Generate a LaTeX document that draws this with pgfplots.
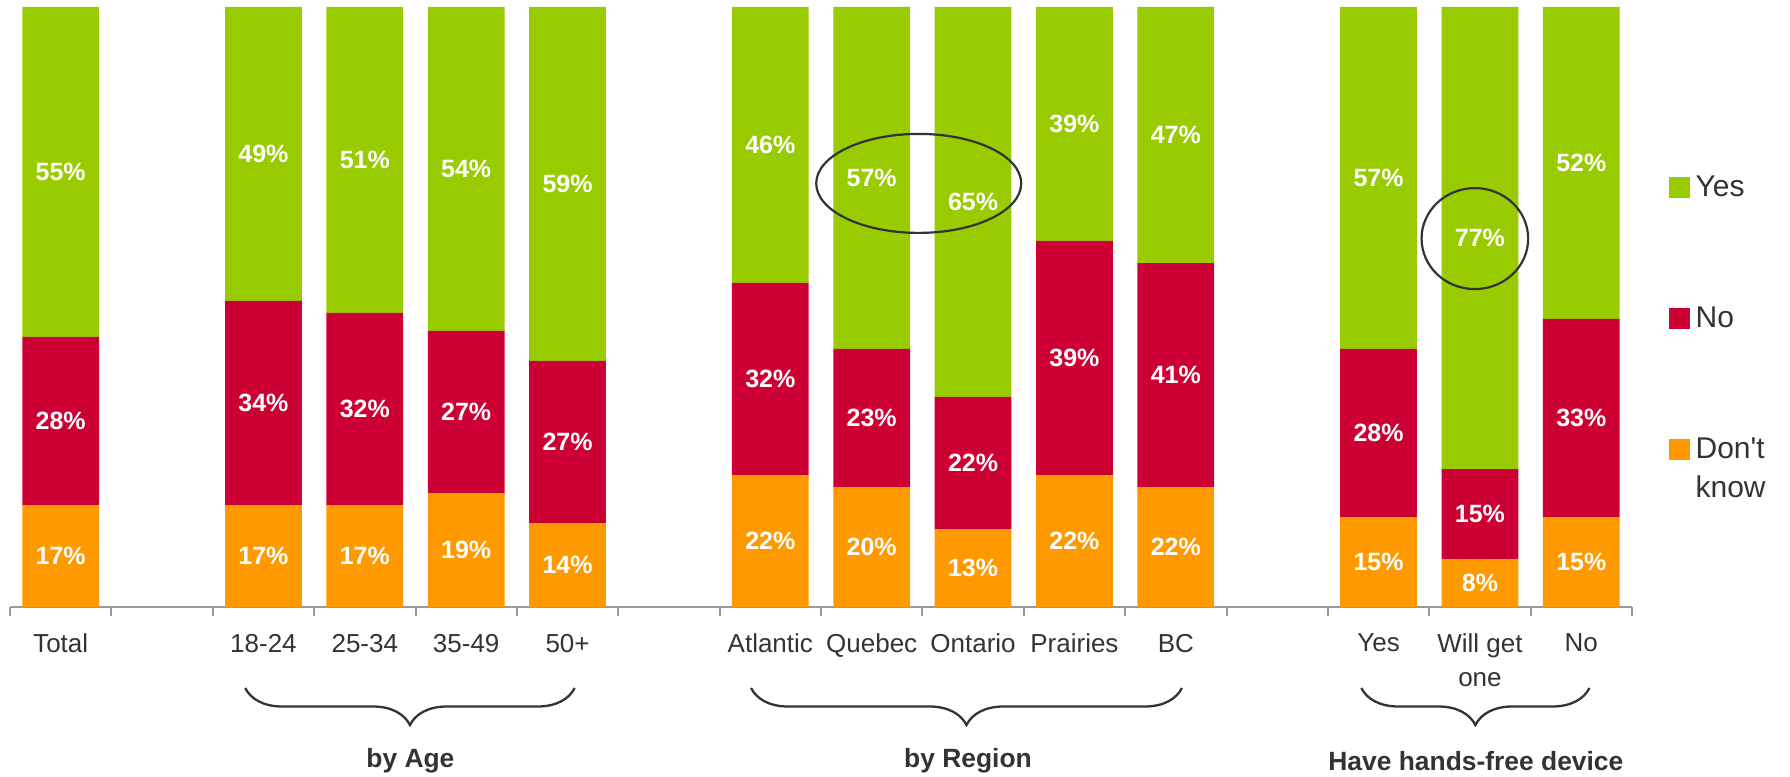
\documentclass[border=0pt]{standalone}
\usepackage{fontspec}
\setmainfont{Liberation Sans}[Ligatures=TeXOff]
\usepackage{pgfplots}
\pgfplotsset{compat=1.18}
\usepackage{pgfplotstable}
\usetikzlibrary{decorations.pathreplacing}

\definecolor{cyes}{HTML}{99CC00}
\definecolor{cno}{HTML}{CC0033}
\definecolor{cdk}{HTML}{FF9900}
\definecolor{txt}{HTML}{333333}
\definecolor{axgray}{HTML}{999999}

\pgfplotsset{
  sqimg/.style={legend image code/.code={\fill[##1] (0pt,-5.25pt) rectangle (10.5pt,5.25pt);}},
  sqimgup/.style={legend image code/.code={\fill[##1] (0pt,4.5pt) rectangle (10.5pt,15pt);}},
  frame/.style={scale only axis, width=811pt, height=300pt, at={(0,0)}, anchor=south west,
    xmin=-0.5, xmax=15.5, ymin=0, ymax=100, enlargelimits=false, clip=false},
}

% heights of the segments, their printed values, and the middle of each segment
\pgfplotstableread{
x  dk   dkl no   nol yes  yesl mdk  mno   myes
0  17   17  28   28  55   55   8.5  31    72.5
2  17   17  34   34  49   49   8.5  34    75.5
3  17   17  32   32  51   51   8.5  33    74.5
4  19   19  27   27  54   54   9.5  32.5  73
5  14   14  27   27  59   59   7    27.5  70.5
7  22   22  32   32  46   46   11   38    77
8  20   20  23   23  57   57   10   31.5  71.5
9  13   13  22   22  65   65   6.5  24    67.5
10 22   22  39   39  39   39   11   41.5  80.5
11 20.0 22  37.3 41  42.7 47   10   38.65 78.65
13 15   15  28   28  57   57   7.5  29    71.5
14 8    8   15   15  77   77   4    15.5  61.5
15 15   15  33   33  52   52   7.5  31.5  74
}\data

\begin{document}
\begin{tikzpicture}
\path[use as bounding box] (-5pt,-85pt) rectangle (890pt,303.5pt);
\begin{axis}[
  frame,
  ybar stacked, bar width=38.35pt,
  axis x line*=bottom, axis y line=none,
  x axis line style={axgray, line width=1pt},
  xtick={0,2,3,4,5,7,8,9,10,11,13,14,15},
  xticklabels={Total,18-24,25-34,35-49,50+,Atlantic,Quebec,Ontario,Prairies,BC,Yes,{Will get\\one},No},
  xticklabel style={align=center, font=\fontsize{13}{17}\selectfont, text=txt, yshift=-10pt},
  ytick=\empty,
  major tick length=0pt,
  minor xtick={-0.5,0.5,...,15.5},
  minor tick length=4.5pt,
  tick align=outside,
  minor tick style={axgray, line width=1pt},
  legend style={draw=none, fill=none, at={(axis description cs:1,1)}, anchor=north west, xshift=18.5pt, yshift=-84pt,
    font=\fontsize{15}{19.5}\selectfont, text=txt, row sep=53.85pt, column sep=2.6pt, inner sep=0pt,
    nodes={inner sep=0pt, align=left}},
  legend cell align=left,
  reverse legend,
  sqimg,
]
\addplot[fill=cdk, draw=none, sqimgup] table[x=x, y=dk] {\data};
\addlegendentry{Don't\\know}
\addplot[fill=cno, draw=none] table[x=x, y=no] {\data};
\addlegendentry{No}
\addplot[fill=cyes, draw=none] table[x=x, y=yes] {\data};
\addlegendentry{Yes}

\draw[txt, line width=1.15pt, decorate, decoration={brace, mirror, amplitude=18.5pt}]
  ([yshift=-40.5pt]axis cs:1.82,0) -- ([yshift=-40.5pt]axis cs:5.07,0);
\draw[txt, line width=1.15pt, decorate, decoration={brace, mirror, amplitude=18.5pt}]
  ([yshift=-40.5pt]axis cs:6.81,0) -- ([yshift=-40.5pt]axis cs:11.06,0);
\draw[txt, line width=1.15pt, decorate, decoration={brace, mirror, amplitude=18.5pt}]
  ([yshift=-40.5pt]axis cs:12.83,0) -- ([yshift=-40.5pt]axis cs:15.08,0);

\node[font=\fontsize{13.2}{15}\selectfont\bfseries, text=txt] at ([yshift=-77pt]axis cs:3.45,0) {by Age};
\node[font=\fontsize{13.2}{15}\selectfont\bfseries, text=txt] at ([yshift=-77pt]axis cs:8.95,0) {by Region};
\node[font=\fontsize{13.2}{15}\selectfont\bfseries, text=txt] at ([yshift=-77pt]axis cs:13.96,0) {Have hands-free device};
\end{axis}

\begin{axis}[
  frame, hide axis,
  point meta=explicit symbolic,
  nodes near coords={\pgfplotspointmeta\%},
  every node near coord/.style={anchor=center, font=\fontsize{12.5}{15}\selectfont\bfseries, text=white},
]
\addplot[draw=none, mark=none] table[x=x, y=mdk, meta=dkl] {\data};
\addplot[draw=none, mark=none] table[x=x, y=mno, meta=nol] {\data};
\addplot[draw=none, mark=none] table[x=x, y=myes, meta=yesl] {\data};
\coordinate (e1) at (axis cs:8.464,70.6);
\coordinate (e2) at (axis cs:13.95,61.4);
\end{axis}
\draw[txt, line width=1.1pt] (e1) ellipse [x radius=51.25pt, y radius=24.75pt];
\draw[txt, line width=1.1pt] (e2) ellipse [x radius=26.65pt, y radius=25.25pt];
\end{tikzpicture}
\end{document}
